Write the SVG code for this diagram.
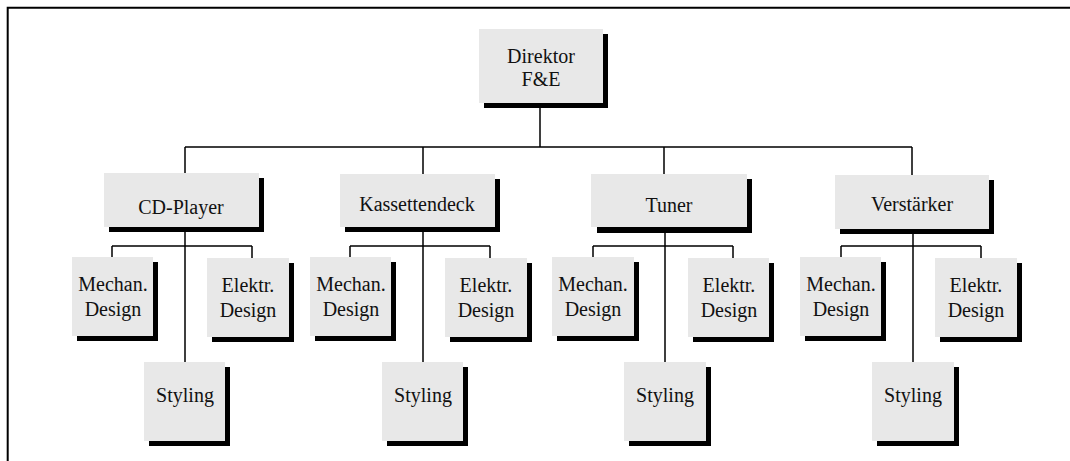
<svg xmlns="http://www.w3.org/2000/svg" width="1070" height="461" viewBox="0 0 1070 461">
  <defs>
    <style>
      .box { fill: #e8e8e8; }
      .shadow { fill: #000; }
      .ln { stroke: #000; stroke-width: 1.5; fill: none; }
      .frame { stroke: #000; stroke-width: 2; fill: none; }
      text { font-family: 'Liberation Serif', 'Times New Roman', 'DejaVu Serif', serif; font-size: 20px; fill: #111; text-anchor: middle; }
    </style>
  </defs>
  <rect width="1070" height="461" fill="#fff"/>
  <!-- page frame -->
  <path class="frame" d="M7.7 461 V7.7 H1070"/>

  <!-- connectors -->
  <g id="connectors">
    <path class="ln" d="M540 107 V147 M185 147 H912 M185 147 V174 M423 147 V174 M664 147 V174 M912 147 V175"/>
    <!-- CD-Player -->
    <path class="ln" d="M185 232 V362 M112 246 H252 M112 246 V257 M252 246 V258"/>
    <!-- Kassettendeck -->
    <path class="ln" d="M423 232 V362 M350 246 H490 M350 246 V257 M490 246 V258"/>
    <!-- Tuner -->
    <path class="ln" d="M665 232 V362 M593 246 H733 M593 246 V257 M733 246 V258"/>
    <!-- Verstärker -->
    <path class="ln" d="M913 234 V362 M841 246 H981 M841 246 V257 M981 246 V258"/>
  </g>

  <g id="direktor">
    <rect class="shadow" x="484" y="34" width="124" height="74"/>
    <rect class="box" x="479" y="29" width="124" height="74"/>
    <text x="541" y="63">Direktor</text>
    <text x="541" y="86">F&amp;E</text>
  </g>

  <!-- product lines -->
  <g id="cd-player">
    <rect class="shadow" x="109" y="178" width="155" height="54"/>
    <rect class="box" x="104" y="173" width="155" height="54"/>
    <text x="181" y="214">CD-Player</text>
  </g>
  <g id="kassettendeck">
    <rect class="shadow" x="345" y="179" width="155" height="53"/>
    <rect class="box" x="340" y="174" width="155" height="53"/>
    <text x="417" y="211">Kassettendeck</text>
  </g>
  <g id="tuner">
    <rect class="shadow" x="597" y="179" width="155" height="54"/>
    <rect class="box" x="591" y="174" width="156" height="53"/>
    <text x="669" y="212">Tuner</text>
  </g>
  <g id="verstaerker">
    <rect class="shadow" x="840" y="180" width="154" height="54"/>
    <rect class="box" x="835" y="175" width="154" height="54"/>
    <text x="912" y="211">Verstärker</text>
  </g>

  <!-- CD-Player departments -->
  <g id="cd-mechan">
    <rect class="shadow" x="77" y="262" width="81" height="79"/>
    <rect class="box" x="72" y="257" width="81" height="79"/>
    <text x="113" y="291">Mechan.</text>
    <text x="113" y="316">Design</text>
  </g>
  <g id="cd-elektr">
    <rect class="shadow" x="212" y="263" width="82" height="79"/>
    <rect class="box" x="207" y="258" width="82" height="79"/>
    <text x="248" y="292">Elektr.</text>
    <text x="248" y="317">Design</text>
  </g>
  <g id="cd-styling">
    <rect class="shadow" x="149" y="367" width="81" height="79"/>
    <rect class="box" x="144" y="362" width="81" height="79"/>
    <text x="185" y="402">Styling</text>
  </g>

  <!-- Kassettendeck departments -->
  <g id="kd-mechan">
    <rect class="shadow" x="315" y="262" width="81" height="79"/>
    <rect class="box" x="310" y="257" width="81" height="79"/>
    <text x="351" y="291">Mechan.</text>
    <text x="351" y="316">Design</text>
  </g>
  <g id="kd-elektr">
    <rect class="shadow" x="450" y="263" width="82" height="79"/>
    <rect class="box" x="445" y="258" width="82" height="79"/>
    <text x="486" y="292">Elektr.</text>
    <text x="486" y="317">Design</text>
  </g>
  <g id="kd-styling">
    <rect class="shadow" x="387" y="367" width="81" height="79"/>
    <rect class="box" x="382" y="362" width="81" height="79"/>
    <text x="423" y="402">Styling</text>
  </g>

  <!-- Tuner departments -->
  <g id="tu-mechan">
    <rect class="shadow" x="557" y="262" width="82" height="79"/>
    <rect class="box" x="552" y="257" width="82" height="79"/>
    <text x="593" y="291">Mechan.</text>
    <text x="593" y="316">Design</text>
  </g>
  <g id="tu-elektr">
    <rect class="shadow" x="693" y="263" width="81" height="79"/>
    <rect class="box" x="688" y="258" width="81" height="79"/>
    <text x="729" y="292">Elektr.</text>
    <text x="729" y="317">Design</text>
  </g>
  <g id="tu-styling">
    <rect class="shadow" x="629" y="367" width="82" height="79"/>
    <rect class="box" x="624" y="362" width="82" height="79"/>
    <text x="665" y="402">Styling</text>
  </g>

  <!-- Verstärker departments -->
  <g id="vs-mechan">
    <rect class="shadow" x="805" y="262" width="81" height="79"/>
    <rect class="box" x="800" y="257" width="81" height="79"/>
    <text x="841" y="291">Mechan.</text>
    <text x="841" y="316">Design</text>
  </g>
  <g id="vs-elektr">
    <rect class="shadow" x="940" y="263" width="82" height="79"/>
    <rect class="box" x="935" y="258" width="82" height="79"/>
    <text x="976" y="292">Elektr.</text>
    <text x="976" y="317">Design</text>
  </g>
  <g id="vs-styling">
    <rect class="shadow" x="877" y="367" width="82" height="79"/>
    <rect class="box" x="872" y="362" width="82" height="79"/>
    <text x="913" y="402">Styling</text>
  </g>
</svg>
